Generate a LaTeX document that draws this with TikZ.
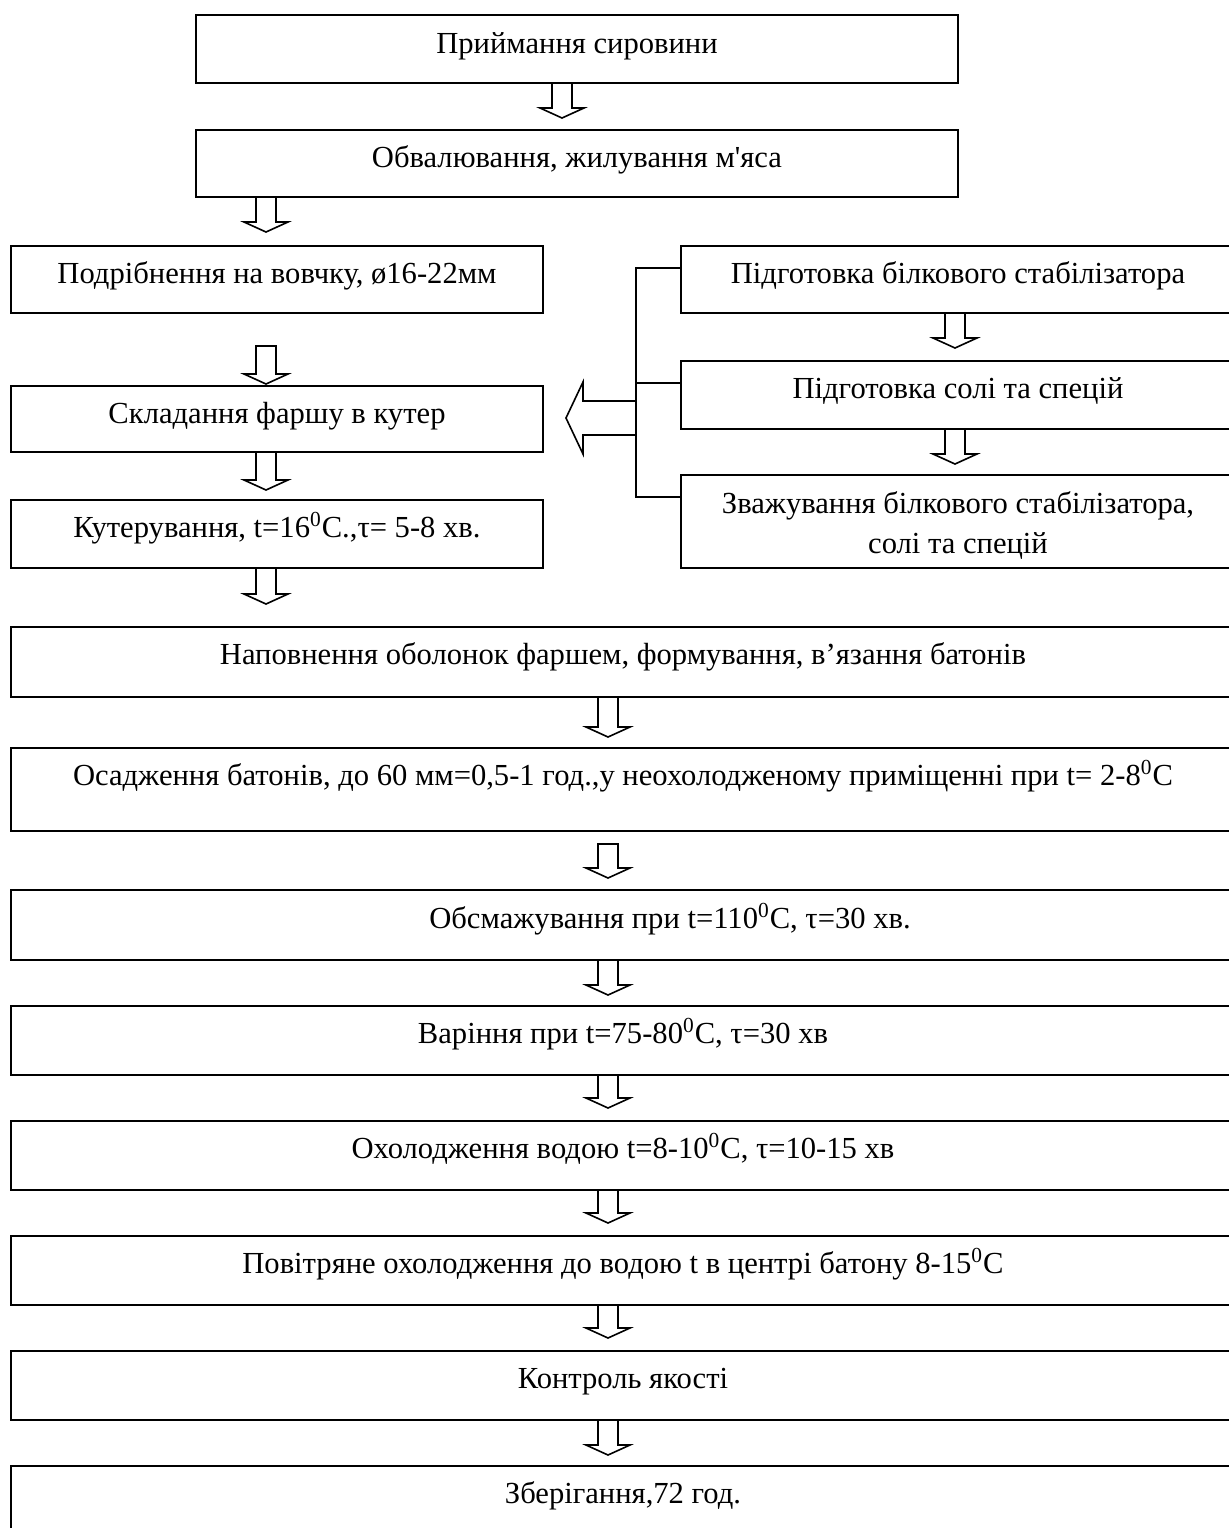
\documentclass[tikz,border=0pt]{standalone}
\usepackage{fontspec}
\setmainfont{Liberation Serif}
\usetikzlibrary{positioning,calc}
\newcommand\flowfont{\fontsize{15.3pt}{20pt}\selectfont}
\newcommand\sq{\XeTeXglyph\XeTeXcharglyph"0027\relax}
\tikzset{
  stage/.style={draw=black,line width=1pt,inner sep=0pt,outer sep=0pt,align=center,
                anchor=north west},
  hollow/.style={draw=black,line width=0.8pt,line join=miter},
  brline/.style={draw=black,line width=0.8pt}
}
\newcommand\hollowdn[2]{%
  \draw[hollow] let \p1=(#1), \p2=(#2) in
    (\x2-5pt,\y1) -- (\x2-5pt,\y2+5pt) -- (\x2-11pt,\y2+5pt) -- (\x2,\y2)
    -- (\x2+11pt,\y2+5pt) -- (\x2+5pt,\y2+5pt) -- (\x2+5pt,\y1) -- cycle;}

\begin{document}
\begin{tikzpicture}[x=0.5pt,y=-0.5pt,every node/.style={font=\flowfont}]
\useasboundingbox (0,0) rectangle (1228,1528);

\node[stage, minimum width=381pt, text height=19pt, text depth=15pt] (prim) at (196,15) {Приймання сировини};
\node[stage, minimum width=381pt, text height=18.5pt, text depth=15pt] (obval) at (196,130) {Обвалювання, жилування м\sq{}яса};

\node[stage, minimum width=266pt, text height=18.5pt, text depth=15pt] (podr) at (11,246) {Подрібнення на вовчку, ø16-22мм};
\node[stage, minimum width=266pt, text height=18.5pt, text depth=14.5pt] (sklad) at (11,386) {Складання фаршу в кутер};
\node[stage, minimum width=266pt, text height=18.5pt, text depth=15.5pt] (kuter) at (11,500) {Кутерування, t=16\textsuperscript{0}C.,τ= 5-8 хв.};

\node[stage, minimum width=277pt, text height=18.5pt, text depth=15pt] (r1) at (681,246) {Підготовка білкового стабілізатора};
\node[stage, minimum width=277pt, text height=18.5pt, text depth=15.5pt] (r2) at (681,361) {Підготовка солі та спецій};
\node[stage, minimum width=277pt, text height=39pt, text depth=7.5pt] (r3) at (681,475) {Зважування білкового стабілізатора,\\ солі та спецій};

\node[stage, minimum width=612pt, text height=18.5pt, text depth=16.5pt] (napov) at (11,627) {Наповнення оболонок фаршем, формування, в’язання батонів};
\node[stage, minimum width=612pt, text height=18.5pt, text depth=23pt] (osad) at (11,748) {Осадження батонів, до 60 мм=0,5-1 год.,у неохолодженому приміщенні при t= 2-8\textsuperscript{0}C};
\node[stage, minimum width=612pt, text height=19pt, text depth=16pt] (obsm) at (11,890) {\hspace*{47pt}Обсмажування при t=110\textsuperscript{0}C, τ=30 хв.};
\node[stage, minimum width=612pt, text height=18.5pt, text depth=16pt] (var) at (11,1006) {Варіння при t=75-80\textsuperscript{0}C, τ=30 хв};
\node[stage, minimum width=612pt, text height=18.5pt, text depth=16pt] (okh) at (11,1121) {Охолодження водою t=8-10\textsuperscript{0}C, τ=10-15 хв};
\node[stage, minimum width=612pt, text height=18.5pt, text depth=16pt] (pov) at (11,1236) {Повітряне охолодження до водою t в центрі батону 8-15\textsuperscript{0}C};
\node[stage, minimum width=612pt, text height=18.5pt, text depth=16pt] (kontr) at (11,1351) {Контроль якості};
\node[stage, minimum width=612pt, text height=18.5pt, text depth=18.5pt] (zber) at (11,1466) {Зберігання,72 год.};

\coordinate (b1) at ($(r1.north west)+(0,22)$);
\coordinate (b2) at ($(r2.north west)+(0,22)$);
\coordinate (b3) at ($(r3.north west)+(0,22)$);
\coordinate (bt) at ($(b1)+(-45,0)$);
\draw[brline] (b1) -- (bt) -- (bt |- b3) -- (b3);
\draw[brline] (b2) -- (bt |- b2);
\coordinate (ltip) at ($(sklad.east)+(23,-1)$);
\draw[hollow] let \p1=(bt), \p2=(ltip) in
  (\x1,\y2+8.5pt) -- (\x2+8.5pt,\y2+8.5pt) -- (\x2+8.5pt,\y2+18pt) -- (\x2,\y2)
  -- (\x2+8.5pt,\y2-18pt) -- (\x2+8.5pt,\y2-8.5pt) -- (\x1,\y2-8.5pt);

\hollowdn{prim.south}{$(prim.south)+(-15,35)$}
\hollowdn{obval.south}{$(obval.south)+(-311,35)$}
\hollowdn{$(podr.south)+(-11,33)$}{$(podr.south)+(-11,71)$}
\hollowdn{sklad.south}{$(sklad.south)+(-11,38)$}
\hollowdn{kuter.south}{$(kuter.south)+(-11,36)$}
\hollowdn{r1.south}{$(r1.south)+(-3,35)$}
\hollowdn{r2.south}{$(r2.south)+(-3,35)$}
\hollowdn{napov.south}{$(napov.south)+(-15,40)$}
\hollowdn{$(osad.south)+(0,13)$}{$(osad.south)+(-15,47)$}
\hollowdn{obsm.south}{$(obsm.south)+(-15,35)$}
\hollowdn{var.south}{$(var.south)+(-15,33)$}
\hollowdn{okh.south}{$(okh.south)+(-15,33)$}
\hollowdn{pov.south}{$(pov.south)+(-15,33)$}
\hollowdn{kontr.south}{$(kontr.south)+(-15,35)$}
\end{tikzpicture}
\end{document}
